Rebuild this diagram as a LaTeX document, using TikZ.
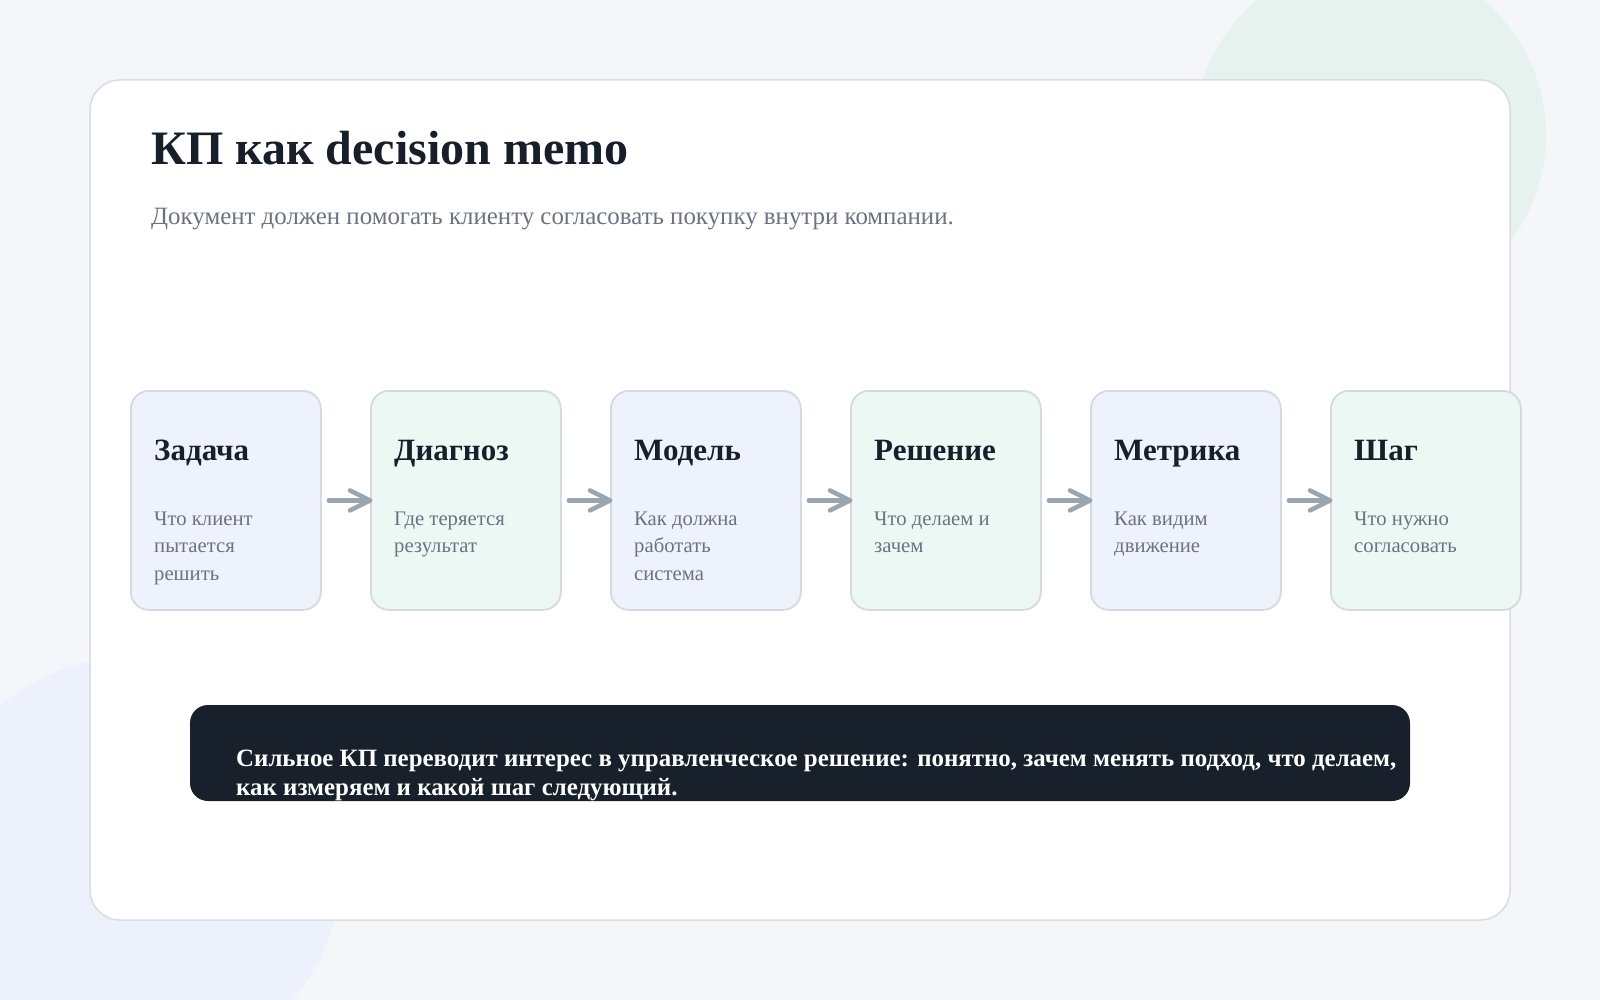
\documentclass[tikz,border=0pt]{standalone}
\usepackage{fontspec}
\setmainfont{Liberation Serif}
\definecolor{bgc}{HTML}{F4F6FA}
\definecolor{greencirc}{HTML}{E6F2EE}
\definecolor{lavcirc}{HTML}{EDF1FC}
\definecolor{cardline}{HTML}{D8DDE3}
\definecolor{ink}{HTML}{17202A}
\definecolor{sub}{HTML}{6B7280}
\definecolor{lav}{HTML}{EEF2FD}
\definecolor{mint}{HTML}{ECF8F4}
\definecolor{boxline}{HTML}{D5DAE1}
\definecolor{arr}{HTML}{9AA5B1}
\definecolor{dark}{HTML}{18212B}
\tikzset{
  stepbox/.style={draw=boxline,line width=1.8pt,rounded corners=18pt,minimum width=190pt,minimum height=219pt,anchor=north west,inner sep=0pt},
  lavbox/.style={stepbox,fill=lav},
  mintbox/.style={stepbox,fill=mint},
  boxtitle/.style={anchor=base west,inner sep=0pt,text=ink,font=\fontsize{31}{36}\selectfont\bfseries},
  boxdesc/.style={anchor=base west,inner sep=0pt,text=sub,font=\fontsize{20.7}{27.5}\selectfont},
  flow/.style={draw=arr,line width=4.5pt,line cap=round,line join=round},
}
\begin{document}
\begin{tikzpicture}[x=1pt,y=-1pt]
\useasboundingbox (0,0) rectangle (1600,1000);
\fill[bgc] (0,0) rectangle (1600,1000);
\begin{scope}
\clip (0,0) rectangle (1600,1000);
\fill[greencirc] (1370,135) circle (176);
\fill[lavcirc] (134,865) circle (208);
\end{scope}
% card
\draw[cardline,fill=white,line width=1.5pt,rounded corners=30pt] (90,80) rectangle (1510,920);
% title
\node[anchor=base west,inner sep=0pt,text=ink,font=\fontsize{48}{56}\selectfont\bfseries] (title) at (151,165) {КП как decision memo};
\node[anchor=base west,inner sep=0pt,text=sub,font=\fontsize{24.9}{28}\selectfont] (subtitle) at (151,225) {Документ должен помогать клиенту согласовать покупку внутри компании.};
% boxes
\node[lavbox] (b1) at (130,390) {};
\node[mintbox] (b2) at (370,390) {};
\node[lavbox] (b3) at (610,390) {};
\node[mintbox] (b4) at (850,390) {};
\node[lavbox] (b5) at (1090,390) {};
\node[mintbox] (b6) at (1330,390) {};
\foreach \i/\t/\d in {1/Задача/{Что клиент\\пытается\\решить},2/Диагноз/{Где теряется\\результат},3/Модель/{Как должна\\работать\\система},4/Решение/{Что делаем и\\зачем},5/Метрика/{Как видим\\движение},6/Шаг/{Что нужно\\согласовать}}{
  \node[boxtitle] (t\i) at ([xshift=24pt,yshift=-70pt]b\i.north west) {\t};
  \node[boxdesc] (d\i) at ([xshift=24pt,yshift=-135pt]b\i.north west) {\parbox[t]{165pt}{\raggedright\d}};
}
% arrows
\foreach \a/\b in {b1/b2,b2/b3,b3/b4,b4/b5,b5/b6}{
  \draw[flow] ([xshift=7pt]\a.east) -- (\b.west);
  \draw[flow] ([xshift=-20pt,yshift=-10pt]\b.west) -- (\b.west) -- ([xshift=-20pt,yshift=10pt]\b.west);
}
% banner
\fill[dark,rounded corners=18pt] (190,705) rectangle (1410,801);
\begin{scope}
\clip (190,705) rectangle (1410,801);
\node[anchor=base west,inner sep=0pt,text=white,font=\fontsize{24.9}{28}\selectfont\bfseries] (ban1) at (236,766) {Сильное КП переводит интерес в управленческое решение: понятно, зачем менять подход, что делаем,};
\node[anchor=base west,inner sep=0pt,text=white,font=\fontsize{24.9}{28}\selectfont\bfseries] (ban2) at (236,795) {как измеряем и какой шаг следующий.};
\end{scope}
\end{tikzpicture}
\end{document}
